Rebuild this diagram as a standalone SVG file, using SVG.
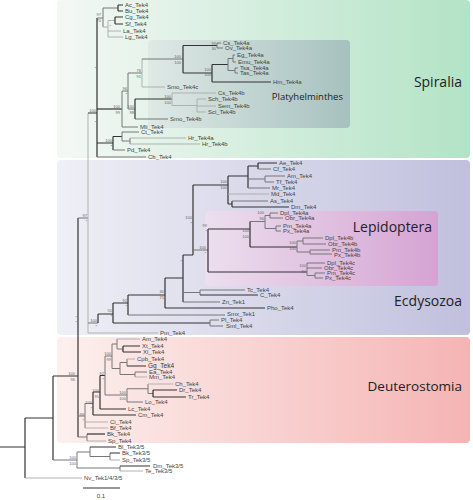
<svg xmlns="http://www.w3.org/2000/svg" width="473" height="500" viewBox="0 0 473 500">
<defs>
<linearGradient id="gS" x1="0" y1="0" x2="1" y2="0"><stop offset="0" stop-color="#f4f8f5"/><stop offset="1" stop-color="#b3e3c6"/></linearGradient>
<linearGradient id="gE" x1="0" y1="0" x2="1" y2="0"><stop offset="0" stop-color="#efeff6"/><stop offset="1" stop-color="#c0c0de"/></linearGradient>
<linearGradient id="gD" x1="0" y1="0" x2="1" y2="0"><stop offset="0" stop-color="#fcf0ee"/><stop offset="1" stop-color="#f5b4b4"/></linearGradient>
<linearGradient id="gP" x1="0" y1="0" x2="1" y2="0"><stop offset="0" stop-color="#dfe9e6"/><stop offset="1" stop-color="#a6c1bf"/></linearGradient>
<linearGradient id="gL" x1="0" y1="0" x2="1" y2="0"><stop offset="0" stop-color="#ecdfee"/><stop offset="1" stop-color="#d5a3d3"/></linearGradient>
</defs>
<style>
.t{font-family:"Liberation Sans",Arial,sans-serif;font-size:6px;fill:#444}
.bs{font-family:"Liberation Sans",Arial,sans-serif;font-size:4px;fill:#666;text-anchor:end}
.c{font-family:"Open Sans","DejaVu Sans",sans-serif;fill:#222;text-anchor:end}
.b{stroke:#333;stroke-width:1.2;fill:none}
.m{stroke:#777;stroke-width:1;fill:none}
.l{stroke:#aaa;stroke-width:0.9;fill:none}
</style>
<g id="panels">
<g id="spiralia"><rect x="57" y="0" width="413" height="158" rx="4" fill="url(#gS)"/><text class="c" x="462" y="87" font-size="14">Spiralia</text></g>
<g id="ecdysozoa"><rect x="57" y="160" width="413" height="175" rx="4" fill="url(#gE)"/><text class="c" x="462" y="306" font-size="14">Ecdysozoa</text></g>
<g id="deuterostomia"><rect x="57" y="337" width="413" height="106" rx="4" fill="url(#gD)"/><text class="c" x="462" y="391" font-size="13.5">Deuterostomia</text></g>
<g id="platyhelminthes"><rect x="148" y="40" width="202" height="88" rx="4" fill="url(#gP)"/><text class="c" x="343" y="100" font-size="9.5">Platyhelminthes</text></g>
<g id="lepidoptera"><rect x="205" y="211" width="233" height="75" rx="4" fill="url(#gL)"/><text class="c" x="432" y="232" font-size="14">Lepidoptera</text></g>
</g>
<g id="connectors">
<path class="b" d="M0 447H25M25 418V478M25 418H53M53 376V460M53 376H78"/>
<path class="l" d="M25 478H82"/>
<path class="m" d="M53 460H77"/>
<path class="b" stroke-width="1.6" d="M78 218V437"/>
<path class="m" d="M78 218H88"/>
<path class="l" d="M88 113V333M88 333H158"/>
<path class="b" d="M88 113H97M97 18V157"/>
<path class="m" d="M88 323H98"/>
<path class="m" d="M97 18H103M103 8V27M103 8H118"/>
<path class="b" d="M118 5V11M118 5H123M118 11H123"/>
<path class="l" d="M103 27H108M108 20.5V37M108 20.5H115M108 31H121M108 37H123"/>
<path class="b" d="M115 17V24M115 17H123M115 24H123"/>
<path class="b" d="M97 109H122"/>
<path class="m" d="M122 91V127M122 91H128M128 73V109M128 73H142M128 109H135M122 127H138"/>
<path class="l" d="M142 59V87M142 87H165"/>
<path class="m" d="M142 59H183"/>
<path class="b" d="M183 45.5V73M183 45.5H217M183 73H212M212 64.5V82M212 64.5H228M212 82H271"/>
<path class="m" d="M217 43V48M217 43H221M217 48H223M228 58.5V70.5M228 58.5H233M228 70.5H235M233 55V62M233 55H235M233 62H236M235 68V73M235 68H238M235 73H238"/>
<path class="b" d="M135 99V119M135 99H172"/>
<path class="m" d="M135 119H168"/>
<path class="l" d="M172 93V105.5M172 93H216M172 105.5H197M197 99V112M197 99H206M197 106H216M197 112H206"/>
<path class="b" d="M97 143H113M113 136.5V150M113 136.5H122"/>
<path class="m" d="M113 150H125M122 132V141M122 132H139M122 141H130M130 138V144"/>
<path class="l" d="M130 138H186M130 144H200"/>
<path class="m" d="M97 157H146"/>
<path class="b" d="M98 314V323M98 314H113M113 303V323M113 323H210M113 303H128M128 295V315M128 295H165M165 278V308M165 308H265M165 278H183M183 255V302M183 255H193M193 185V255M193 185H228M228 176V204"/>
<path class="m" d="M210 320V326M210 320H219M210 326H223M128 315H225M183 302H220M183 292.5H200M200 290V295M200 290H245"/>
<path class="b" d="M200 295H258"/>
<path class="b" d="M228 176H248M248 166V188M248 166H258M258 163V169M258 163H277M228 204H232M232 201V207M232 207H289"/>
<path class="m" d="M258 169H271M248 179H265M265 176V182M265 176H285M265 182H274M248 188H270M232 201H268"/>
<path class="l" d="M228 194H269"/>
<path class="m" d="M193 250H208"/>
<path class="b" d="M208 229V272M208 229H250M250 221.5V247M250 247H297M208 272H307"/>
<path class="m" d="M250 221.5H265M265 215.5V228.5M265 215.5H270M270 213V218M270 213H278M270 218H283M265 228.5H276M276 226V231M276 226H281M276 231H281"/>
<path class="m" d="M297 241V252M297 241H303M303 238V244M303 238H323M303 244H326M297 252H310M310 250V254M310 250H330M310 254H332"/>
<path class="m" d="M307 263V275.5M307 263H325M307 268H322M307 275.5H315M315 273V278M315 273H325M315 278H323"/>
<path class="m" d="M78 416H85M85 403.5V428M85 403.5H93"/>
<path class="l" d="M85 422H108M85 428H108"/>
<path class="b" d="M93 392V415M93 392H100M93 415H136M100 375.5V409M100 409H126M100 375.5H105"/>
<path class="m" d="M105 356V395M105 356H112M105 395H127M127 388.75V402M127 388.75H148M127 402H143M148 384V393.5M148 393.5H153"/>
<path class="l" d="M148 384H173"/>
<path class="b" d="M153 390V397M153 390H177M153 397H186"/>
<path class="m" d="M112 344V368.5M112 344H117M112 368.5H120M117 339V349M117 349H123M120 362.5V374.5M120 362.5H127M120 374.5H135M127 359V366M135 372V377M135 372H147"/>
<path class="l" d="M117 339H140M127 359H135M135 377H147"/>
<path class="b" d="M123 346V352M123 346H140M123 352H141M127 366H146"/>
<path class="m" d="M78 437H87M87 434V441"/>
<path class="b" d="M87 434H105"/>
<path class="l" d="M87 441H106"/>
<path class="m" d="M77 452V468M77 452H90M90 447V456.5M90 456.5H110M110 453V460M77 468H120M120 466V471"/>
<path class="b" d="M90 447H116M110 453H120M120 466H150"/>
<path class="l" d="M110 460H120M120 471H143"/>
<path class="b" d="M83 488H120"/>
</g>
<g id="tips">
<g id="Ac_Tek4"><text class="t" x="125" y="7">Ac_Tek4</text></g>
<g id="Bu_Tek4"><text class="t" x="125" y="13">Bu_Tek4</text></g>
<g id="Cg_Tek4"><text class="t" x="125" y="19">Cg_Tek4</text></g>
<g id="Sf_Tek4"><text class="t" x="125" y="26">Sf_Tek4</text></g>
<g id="La_Tek4"><text class="t" x="123" y="33">La_Tek4</text></g>
<g id="Lg_Tek4"><text class="t" x="125" y="39">Lg_Tek4</text></g>
<g id="Cs_Tek4a"><text class="t" x="223" y="45">Cs_Tek4a</text></g>
<g id="Ov_Tek4a"><text class="t" x="225" y="50">Ov_Tek4a</text></g>
<g id="Eg_Tek4a"><text class="t" x="237" y="57">Eg_Tek4a</text></g>
<g id="Emu_Tek4a"><text class="t" x="238" y="64">Emu_Tek4a</text></g>
<g id="Tsa_Tek4a"><text class="t" x="240" y="70">Tsa_Tek4a</text></g>
<g id="Tas_Tek4a"><text class="t" x="240" y="75">Tas_Tek4a</text></g>
<g id="Hm_Tek4a"><text class="t" x="273" y="84">Hm_Tek4a</text></g>
<g id="Smo_Tek4c"><text class="t" x="167" y="89">Smo_Tek4c</text></g>
<g id="Cs_Tek4b"><text class="t" x="218" y="95">Cs_Tek4b</text></g>
<g id="Sch_Tek4b"><text class="t" x="208" y="101">Sch_Tek4b</text></g>
<g id="Sem_Tek4b"><text class="t" x="218" y="108">Sem_Tek4b</text></g>
<g id="Sci_Tek4b"><text class="t" x="208" y="114">Sci_Tek4b</text></g>
<g id="Smo_Tek4b"><text class="t" x="170" y="121">Smo_Tek4b</text></g>
<g id="Mli_Tek4"><text class="t" x="140" y="129">Mli_Tek4</text></g>
<g id="Ct_Tek4"><text class="t" x="141" y="134">Ct_Tek4</text></g>
<g id="Hr_Tek4a"><text class="t" x="188" y="140">Hr_Tek4a</text></g>
<g id="Hr_Tek4b"><text class="t" x="202" y="146">Hr_Tek4b</text></g>
<g id="Pd_Tek4"><text class="t" x="127" y="152">Pd_Tek4</text></g>
<g id="Cb_Tek4"><text class="t" x="148" y="159">Cb_Tek4</text></g>
<g id="Ae_Tek4"><text class="t" x="279" y="165">Ae_Tek4</text></g>
<g id="Cf_Tek4"><text class="t" x="273" y="171">Cf_Tek4</text></g>
<g id="Am_Tek4_i"><text class="t" x="287" y="178">Am_Tek4</text></g>
<g id="Tf_Tek4"><text class="t" x="276" y="184">Tf_Tek4</text></g>
<g id="Mr_Tek4"><text class="t" x="272" y="190">Mr_Tek4</text></g>
<g id="Md_Tek4"><text class="t" x="271" y="196">Md_Tek4</text></g>
<g id="As_Tek4"><text class="t" x="270" y="203">As_Tek4</text></g>
<g id="Dm_Tek4"><text class="t" x="291" y="209">Dm_Tek4</text></g>
<g id="Dpl_Tek4a"><text class="t" x="280" y="215">Dpl_Tek4a</text></g>
<g id="Obr_Tek4a"><text class="t" x="285" y="220">Obr_Tek4a</text></g>
<g id="Pm_Tek4a"><text class="t" x="283" y="228">Pm_Tek4a</text></g>
<g id="Px_Tek4a"><text class="t" x="283" y="233">Px_Tek4a</text></g>
<g id="Dpl_Tek4b"><text class="t" x="325" y="240">Dpl_Tek4b</text></g>
<g id="Obr_Tek4b"><text class="t" x="328" y="246">Obr_Tek4b</text></g>
<g id="Pm_Tek4b"><text class="t" x="332" y="252">Pm_Tek4b</text></g>
<g id="Px_Tek4b"><text class="t" x="334" y="256.5">Px_Tek4b</text></g>
<g id="Dpl_Tek4c"><text class="t" x="327" y="265">Dpl_Tek4c</text></g>
<g id="Obr_Tek4c"><text class="t" x="324" y="270">Obr_Tek4c</text></g>
<g id="Pm_Tek4c"><text class="t" x="327" y="275">Pm_Tek4c</text></g>
<g id="Px_Tek4c"><text class="t" x="325" y="280">Px_Tek4c</text></g>
<g id="Tc_Tek4"><text class="t" x="247" y="292">Tc_Tek4</text></g>
<g id="C_Tek4"><text class="t" x="260" y="297">C_Tek4</text></g>
<g id="Zn_Tek1"><text class="t" x="222" y="304">Zn_Tek1</text></g>
<g id="Pho_Tek4"><text class="t" x="267" y="310">Pho_Tek4</text></g>
<g id="Smx_Tek1"><text class="t" x="227" y="316">Smx_Tek1</text></g>
<g id="Pl_Tek4"><text class="t" x="221" y="322">Pl_Tek4</text></g>
<g id="Sml_Tek4"><text class="t" x="226" y="328">Sml_Tek4</text></g>
<g id="Pm_Tek4"><text class="t" x="160" y="335">Pm_Tek4</text></g>
<g id="Am_Tek4_d"><text class="t" x="142" y="341">Am_Tek4</text></g>
<g id="Xt_Tek4"><text class="t" x="142" y="348">Xt_Tek4</text></g>
<g id="Xl_Tek4"><text class="t" x="143" y="354">Xl_Tek4</text></g>
<g id="Cpb_Tek4"><text class="t" x="137" y="361">Cpb_Tek4</text></g>
<g id="Gg_Tek4"><text class="t" x="148" y="368" style="font-size:6.5px;fill:#333">Gg_Tek4</text></g>
<g id="Ea_Tek4"><text class="t" x="149" y="374">Ea_Tek4</text></g>
<g id="Mm_Tek4"><text class="t" x="149" y="379">Mm_Tek4</text></g>
<g id="Ch_Tek4"><text class="t" x="175" y="386">Ch_Tek4</text></g>
<g id="Dr_Tek4"><text class="t" x="179" y="392">Dr_Tek4</text></g>
<g id="Tr_Tek4"><text class="t" x="188" y="399">Tr_Tek4</text></g>
<g id="Lo_Tek4"><text class="t" x="145" y="404">Lo_Tek4</text></g>
<g id="Lc_Tek4"><text class="t" x="128" y="411">Lc_Tek4</text></g>
<g id="Cm_Tek4"><text class="t" x="138" y="417">Cm_Tek4</text></g>
<g id="Ci_Tek4"><text class="t" x="110" y="424">Ci_Tek4</text></g>
<g id="Bf_Tek4"><text class="t" x="110" y="430">Bf_Tek4</text></g>
<g id="Bk_Tek4"><text class="t" x="107" y="436">Bk_Tek4</text></g>
<g id="Sp_Tek4"><text class="t" x="108" y="443">Sp_Tek4</text></g>
<g id="Bl_Tek3-5"><text class="t" x="118" y="449">Bl_Tek3/5</text></g>
<g id="Bk_Tek3-5"><text class="t" x="122" y="455">Bk_Tek3/5</text></g>
<g id="Sp_Tek3-5"><text class="t" x="122" y="462">Sp_Tek3/5</text></g>
<g id="Dm_Tek3-5"><text class="t" x="153" y="468">Dm_Tek3/5</text></g>
<g id="Te_Tek3-5"><text class="t" x="145" y="473">Te_Tek3/5</text></g>
<g id="Nv_Tek1-4-3-5"><text class="t" x="84" y="480">Nv_Tek1/4/3/5</text></g>
<g id="scale"><text class="t" x="101" y="498" text-anchor="middle">0.1</text></g>
</g>
<g id="support">
<text class="bs" x="101" y="16">97</text><text class="bs" x="101" y="22">70</text>
<text class="bs" x="111" y="28">*</text>
<text class="bs" x="181" y="58">100</text><text class="bs" x="181" y="63.5">100</text>
<text class="bs" x="216" y="44.5">99</text><text class="bs" x="216" y="50">30</text>
<text class="bs" x="211" y="71">100</text><text class="bs" x="211" y="76">100</text>
<text class="bs" x="141" y="72">76</text><text class="bs" x="141" y="77.5">91</text>
<text class="bs" x="127" y="90">96</text><text class="bs" x="127" y="95.5">*</text>
<text class="bs" x="120" y="108">100</text><text class="bs" x="120" y="113.5">99</text>
<text class="bs" x="134" y="108">100</text><text class="bs" x="134" y="113.5">98</text>
<text class="bs" x="171" y="98">100</text><text class="bs" x="171" y="103.5">100</text>
<text class="bs" x="112" y="142">100</text><text class="bs" x="112" y="147.5">*</text>
<text class="bs" x="96" y="112">100</text>
<text class="bs" x="96" y="70">*</text><text class="bs" x="96" y="124">*</text>
<text class="bs" x="87" y="217">97</text><text class="bs" x="87" y="222.5">*</text>
<text class="bs" x="75" y="375">100</text><text class="bs" x="75" y="380.5">96</text>
<text class="bs" x="77" y="319">*</text><text class="bs" x="77" y="324">*</text>
<text class="bs" x="97" y="322">100</text><text class="bs" x="97" y="327.5">*</text>
<text class="bs" x="112" y="312">55</text><text class="bs" x="112" y="317.5">*</text>
<text class="bs" x="127" y="302">92</text><text class="bs" x="127" y="307.5">*</text>
<text class="bs" x="164" y="293">30</text><text class="bs" x="164" y="298.5">71</text>
<text class="bs" x="182" y="263">*</text>
<text class="bs" x="192" y="219">100</text><text class="bs" x="192" y="224.5">*</text>
<text class="bs" x="206" y="249">100</text><text class="bs" x="206" y="255">*</text>
<text class="bs" x="207" y="227">99</text><text class="bs" x="207" y="232.5">*</text>
<text class="bs" x="227" y="183">100</text><text class="bs" x="227" y="188.5">100</text>
<text class="bs" x="264" y="214">100</text><text class="bs" x="264" y="220">96</text>
<text class="bs" x="249" y="232">100</text><text class="bs" x="249" y="237.5">100</text>
<text class="bs" x="296" y="244">100</text><text class="bs" x="296" y="249.5">100</text>
<text class="bs" x="306" y="267">100</text><text class="bs" x="306" y="272.5">90</text>
<text class="bs" x="76" y="459">100</text><text class="bs" x="76" y="464.5">100</text>
<text class="bs" x="111" y="355">100</text><text class="bs" x="111" y="360.5">99</text>
<text class="bs" x="104" y="375">92</text><text class="bs" x="104" y="380.5">*</text>
<text class="bs" x="99" y="392">100</text><text class="bs" x="99" y="397.5">95</text>
<text class="bs" x="92" y="404">100</text><text class="bs" x="92" y="409.5">*</text>
<text class="bs" x="84" y="416">99</text><text class="bs" x="84" y="421.5">*</text>
<text class="bs" x="126" y="394">100</text><text class="bs" x="126" y="399.5">100</text>
</g>
</svg>
